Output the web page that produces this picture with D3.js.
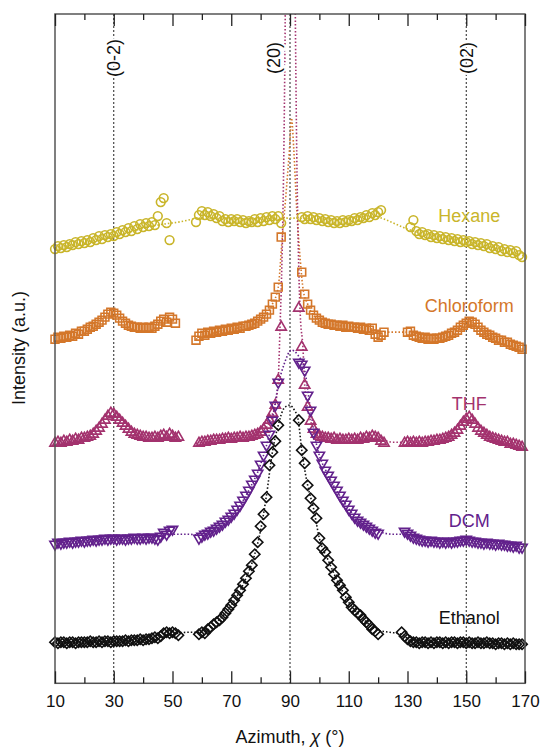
<!DOCTYPE html>
<html>
<head>
<meta charset="utf-8">
<script src="https://cdn.jsdelivr.net/npm/d3@7"></script>
<style>
  body { margin: 0; background: #fff; }
  svg { display: block; font-family: "Liberation Sans", Arial, sans-serif; }
</style>
</head>
<body>
<div id="chart"></div>
<script>
// --- Data (azimuth in degrees, intensity in arbitrary stacked units)
const xTicks = [10, 30, 50, 70, 90, 110, 130, 150, 170];
const xMinorTicks = [20, 40, 60, 80, 100, 120, 140, 160];
const peakPositions = [30, 90, 150];
const peakLabels = ['(0-2)', '(20)', '(02)'];
const seriesNames = ['Hexane', 'Chloroform', 'THF', 'DCM', 'Ethanol'];

// first azimuth of each measured segment, one point per degree after it
const hexaneStart = [10, 58, 94, 131];
const hexaneI = [
  [44.1, 44.4, 44.2, 44.5, 44.3, 44.6, 44.5, 44.8, 44.6, 44.9, 44.7, 45.0, 44.8, 45.2, 45.0, 45.4, 45.1, 45.5, 45.3, 45.6,
   45.4, 45.8, 45.6, 46.0, 45.8, 46.2, 45.9, 46.4, 46.1, 46.6, 46.3, 46.7, 46.4, 46.8, 46.5, 47.4, 48.8, 49.2, 46.7, 45.0],
  [46.8, 47.5, 47.9, 47.5, 47.8, 47.4, 47.6, 47.2, 47.4, 46.9, 47.1, 46.8, 47.1, 46.9, 47.1, 46.8, 47.0, 46.7, 46.9, 46.8,
   47.1, 46.8, 47.2, 46.9, 47.3, 47.0, 47.4, 47.1, 47.4, 46.7],
  [47.3, 47.1, 47.4, 47.1, 47.3, 47.0, 47.2, 46.9, 47.1, 46.8, 47.0, 46.7, 46.9, 46.7, 47.0, 46.8, 47.0, 46.9, 47.2, 47.0,
   47.3, 47.2, 47.5, 47.3, 47.7, 47.5, 47.8, 48.0],
  [46.3, 47.0, 45.9, 45.6, 45.8, 45.5, 45.6, 45.3, 45.5, 45.2, 45.4, 45.1, 45.3, 45.0, 45.2, 44.9, 45.1, 44.8, 45.0, 44.8,
   44.9, 44.6, 44.8, 44.5, 44.7, 44.4, 44.6, 44.2, 44.4, 44.1, 44.3, 43.9, 44.1, 43.8, 44.0, 43.7, 43.9, 43.5, 43.3]
];
const hexaneFit = [[10, 44.2], [30, 45.4], [45, 46.5], [52, 46.8], [60, 47.2], [75, 47.1], [90, 47.2], [105, 47.1],
  [118, 47.4], [122, 47.1], [126, 46.6], [130, 46.1], [140, 45.4], [150, 44.9], [160, 44.2], [170, 43.4]];

const chloroformStart = [10, 58, 94, 130];
const chloroformI = [
  [35.1, 35.3, 35.2, 35.4, 35.3, 35.5, 35.4, 35.7, 35.6, 35.9, 35.9, 36.1, 36.3, 36.4, 36.6, 36.8, 37.0, 37.3, 37.6, 37.8,
   37.7, 37.5, 37.2, 36.9, 36.7, 36.5, 36.4, 36.3, 36.3, 36.2, 36.3, 36.2, 36.3, 36.2, 36.4, 36.6, 36.9, 37.1, 36.8, 37.3,
   37.1, 36.7],
  [35.0, 35.4, 35.7, 35.5, 35.8, 35.7, 35.9, 35.8, 36.0, 35.9, 36.1, 36.0, 36.2, 36.1, 36.3, 36.2, 36.4, 36.4, 36.5, 36.6,
   36.7, 36.9, 37.1, 37.3, 37.6, 38.0, 38.6, 39.3, 40.3, 45.3],
  [41.8, 39.6, 38.6, 38.0, 37.5, 37.2, 37.0, 36.8, 36.7, 36.6, 36.6, 36.5, 36.5, 36.4, 36.5, 36.3, 36.4, 36.3, 36.3, 36.2,
   36.3, 36.1, 36.2, 36.0, 36.2, 35.6, 35.3, 35.5, 35.8],
  [35.8, 35.9, 35.5, 35.4, 35.3, 35.2, 35.3, 35.1, 35.2, 35.1, 35.2, 35.2, 35.3, 35.4, 35.5, 35.7, 35.8, 36.0, 36.3, 36.5,
   36.7, 36.9, 36.8, 36.6, 36.3, 36.0, 35.8, 35.6, 35.5, 35.3, 35.2, 35.0, 35.0, 34.8, 34.8, 34.6, 34.5, 34.4, 34.3, 34.1]
];
const chloroformFit = [[58, 35.1], [65, 35.8], [72, 36.2], [78, 36.7], [82, 37.6], [84, 38.6], [86, 40.3], [87.3, 45],
  [88.6, 49.5], [89.8, 54], [90.5, 57.2], [91.3, 54], [92.3, 48], [93.5, 43], [94.5, 40], [96, 38.6], [100, 37],
  [106, 36.5], [112, 36.3], [118, 36.1], [122, 35.8], [126, 35.8], [130, 35.8], [135, 35.2], [140, 35.2], [145, 35.7],
  [151, 36.9], [156, 35.8], [162, 35.0], [170, 34.0]];

const thfStart = [10, 59, 93, 129];
const thfI = [
  [24.7, 24.8, 24.7, 24.9, 24.8, 25.0, 24.9, 25.1, 25.0, 25.2, 25.2, 25.3, 25.4, 25.6, 25.9, 26.2, 26.6, 27.0, 27.4, 27.7,
   27.6, 27.3, 27.0, 26.7, 26.4, 26.1, 25.8, 25.6, 25.5, 25.4, 25.3, 25.3, 25.2, 25.2, 25.3, 25.2, 25.4, 25.5, 25.3, 25.6,
   25.4, 25.2, 25.3],
  [24.7, 24.8, 24.8, 24.9, 24.9, 25.0, 25.0, 25.0, 25.1, 25.1, 25.2, 25.1, 25.2, 25.2, 25.3, 25.2, 25.3, 25.3, 25.4, 25.5,
   25.6, 25.8, 26.1, 26.5, 27.0, 27.7, 28.5, 31.0, 36.3],
  [38.2, 34.3, 30.5, 28.3, 26.9, 26.1, 25.6, 25.4, 25.3, 25.2, 25.2, 25.1, 25.2, 25.0, 25.1, 25.0, 25.0, 25.1, 25.0, 25.1,
   25.0, 25.2, 25.1, 25.3, 25.2, 25.4, 25.3, 25.2, 24.9, 24.7],
  [24.7, 24.8, 24.7, 24.8, 24.7, 24.8, 24.7, 24.8, 24.8, 24.9, 24.9, 25.0, 25.0, 25.1, 25.2, 25.3, 25.5, 25.7, 26.0, 26.4,
   26.8, 27.1, 27.3, 27.0, 26.6, 26.2, 25.9, 25.7, 25.5, 25.3, 25.2, 25.1, 25.0, 24.9, 24.8, 24.8, 24.6, 24.6, 24.5, 24.4,
   24.3]
];
const thfFit = [[58, 24.7], [70, 25.1], [78, 25.5], [82, 26.3], [84, 27.6], [85, 28.6], [86, 31], [86.6, 36.3], [87.1, 41],
  [88.0, 56], [88.4, 68], [88.7, 80], [90.1, 110], [91.5, 80], [91.8, 68], [92.2, 56], [93.0, 42], [93.5, 37.5],
  [94.4, 34.3], [95, 30.5], [97, 26.9], [100, 25.4], [110, 25.1], [120, 25.1], [125, 24.8], [130, 24.8], [140, 25.0],
  [145, 25.5], [151, 27.2], [157, 25.5], [163, 24.8], [170, 24.3]];

const dcmStart = [10, 59, 93, 129];
const dcmI = [
  [14.6, 14.8, 14.7, 14.8, 14.8, 14.9, 14.8, 14.9, 14.9, 15.0, 14.9, 15.0, 15.0, 15.1, 15.0, 15.1, 15.1, 15.2, 15.1, 15.2,
   15.2, 15.1, 15.2, 15.2, 15.1, 15.2, 15.2, 15.3, 15.2, 15.2, 15.3, 15.2, 15.3, 15.3, 15.2, 15.1, 15.4, 15.8, 15.6, 16.0,
   16.1],
  [15.2, 15.4, 15.6, 15.7, 15.9, 16.0, 16.2, 16.4, 16.6, 16.9, 17.1, 17.4, 17.7, 18.1, 18.5, 19.0, 19.5, 20.0, 20.6, 21.1,
   21.7, 22.6, 23.5, 24.5, 25.6, 27.0, 28.5, 30.8],
  [32.8, 32.6, 32.0, 29.5, 28.0, 25.8, 24.5, 23.5, 22.7, 22.0, 21.5, 21.0, 20.5, 20.0, 19.5, 19.0, 18.6, 18.1, 17.7, 17.3,
   17.0, 16.8, 16.6, 16.4, 16.2, 16.0, 15.8, 15.7],
  [15.9, 15.7, 15.5, 15.3, 15.2, 15.1, 15.0, 15.0, 14.9, 15.0, 14.9, 14.9, 14.8, 14.9, 14.8, 14.9, 14.8, 14.9, 14.9, 15.0,
   15.0, 15.1, 15.0, 14.9, 14.9, 14.8, 14.8, 14.7, 14.8, 14.7, 14.7, 14.6, 14.7, 14.6, 14.6, 14.5, 14.5, 14.4, 14.5, 14.3,
   14.3]
];
const dcmFit = [[10, 14.7], [30, 15.1], [45, 15.4], [50, 15.6], [55, 15.6], [60, 15.5], [70, 17.3], [76, 20], [80, 22.6],
  [84, 27], [86, 30.5], [88, 32.6], [90.5, 34], [92.7, 33.5], [95, 32], [97, 28], [99, 24.6], [103, 21.5], [108, 19],
  [114, 16.8], [120, 15.9], [125, 15.6], [130, 15.6], [140, 14.9], [150, 15.0], [170, 14.3]];

const ethanolStart = [10, 59, 93, 128];
const ethanolI = [
  [4.8, 4.7, 4.8, 4.8, 4.7, 4.8, 4.8, 4.7, 4.8, 4.8, 4.8, 4.8, 4.9, 4.8, 4.8, 4.9, 4.8, 4.9, 4.9, 4.8,
   4.9, 4.9, 4.9, 4.9, 5.0, 4.9, 5.0, 5.0, 5.0, 5.1, 5.0, 5.1, 5.1, 5.2, 5.3, 5.2, 5.4, 5.7, 5.8, 5.7,
   5.8, 5.7, 5.5],
  [5.6, 5.8, 5.7, 6.1, 6.3, 6.6, 6.8, 7.0, 7.3, 7.7, 8.1, 8.5, 9.0, 9.5, 10.0, 10.6, 11.2, 11.9, 12.5, 13.6,
   14.8, 16.4, 17.6, 19.3, 22.5, 23.8, 24.9, 26.5],
  [27.0, 24.0, 22.7, 20.5, 19.2, 18.2, 17.2, 15.2, 14.2, 13.8, 13.0, 12.3, 11.6, 11.0, 10.5, 10.0, 9.3, 8.8, 8.3, 8.0,
   7.7, 7.5, 7.1, 6.8, 6.5, 6.1, 5.9, 5.6],
  [5.8, 5.4, 5.1, 4.9, 4.8, 4.8, 4.7, 4.8, 4.8, 4.7, 4.8, 4.7, 4.8, 4.8, 4.7, 4.8, 4.7, 4.8, 4.8, 4.7,
   4.8, 4.8, 4.7, 4.8, 4.7, 4.7, 4.8, 4.7, 4.7, 4.8, 4.7, 4.7, 4.6, 4.7, 4.7, 4.6, 4.7, 4.6, 4.7, 4.6,
   4.6, 4.6]
];
const ethanolFit = [[10, 4.8], [30, 4.9], [44, 5.2], [50, 5.6], [55, 5.8], [60, 5.8], [65, 6.8], [70, 8.5], [75, 11.2],
  [78, 13.6], [80, 16], [82, 19.5], [84, 23.8], [86, 26.5], [88, 28.2], [89.9, 28.5], [91.5, 28], [92.7, 27.2], [94, 24],
  [96, 20.5], [98, 18.2], [100, 15.2], [103, 13], [106, 11], [110, 8.8], [115, 7.1], [120, 6.0], [124, 5.8], [128, 5.6],
  [132, 4.8], [170, 4.6]];

// --- Chart setup
const width = 541;
const height = 749;
const margin = { top: 14, right: 16, bottom: 65.7, left: 55 };

const colors = ['#c9b52a', '#d4772a', '#a3326e', '#62218c', '#111111'];
const symbols = ['circle', 'square', 'up', 'down', 'diamond'];
const labelPos = [[151, 46.8], [151, 37.85], [151, 28.0], [151, 16.3], [151, 6.6]];

const allStarts = [hexaneStart, chloroformStart, thfStart, dcmStart, ethanolStart];
const allValues = [hexaneI, chloroformI, thfI, dcmI, ethanolI];
const allFits = [hexaneFit, chloroformFit, thfFit, dcmFit, ethanolFit];

const svg = d3.select('#chart').append('svg')
  .attr('width', width)
  .attr('height', height)
  .attr('viewBox', [0, 0, width, height]);

const x = d3.scaleLinear()
  .domain([10, 170])
  .range([margin.left, width - margin.right]);

const y = d3.scaleLinear()
  .domain([0.7, 67.6])
  .range([height - margin.bottom, margin.top]);

svg.append('defs').append('clipPath')
  .attr('id', 'plot-clip')
  .append('rect')
  .attr('x', margin.left)
  .attr('y', margin.top)
  .attr('width', width - margin.left - margin.right)
  .attr('height', height - margin.top - margin.bottom);

// peak reference lines
svg.append('g')
  .selectAll('line')
  .data(peakPositions)
  .join('line')
  .attr('x1', d => x(d))
  .attr('x2', d => x(d))
  .attr('y1', margin.top)
  .attr('y2', height - margin.bottom)
  .attr('stroke', '#222')
  .attr('stroke-width', 1)
  .attr('stroke-dasharray', '2,2');

// fitted curves (dotted)
const fitLine = d3.line()
  .x(d => x(d[0]))
  .y(d => y(d[1]))
  .curve(d3.curveMonotoneX);

svg.append('g')
  .attr('clip-path', 'url(#plot-clip)')
  .selectAll('path')
  .data(allFits)
  .join('path')
  .attr('d', d => fitLine(d))
  .attr('fill', 'none')
  .attr('stroke', (d, i) => colors[i])
  .attr('stroke-width', 1.6)
  .attr('stroke-dasharray', '1.5,2');

// markers
const symbolPath = {
  circle: d3.symbol(d3.symbolCircle, 60)(),
  square: d3.symbol(d3.symbolSquare, 62)(),
  up: d3.symbol(d3.symbolTriangle, 46)(),
  down: d3.symbol(d3.symbolTriangle, 46)(),
  diamond: d3.symbol(d3.symbolSquare, 54)()
};
const symbolRotate = { circle: 0, square: 0, up: 0, down: 180, diamond: 45 };

allValues.forEach((segments, si) => {
  const pts = [];
  segments.forEach((vals, k) => {
    vals.forEach((v, i) => pts.push([allStarts[si][k] + i, v]));
  });
  svg.append('g')
    .attr('class', 'series')
    .selectAll('path')
    .data(pts)
    .join('path')
    .attr('d', symbolPath[symbols[si]])
    .attr('transform', d => `translate(${x(d[0])},${y(d[1])}) rotate(${symbolRotate[symbols[si]]})`)
    .attr('fill', 'none')
    .attr('stroke', colors[si])
    .attr('stroke-width', 1.6);
});

// frame and axes
svg.append('rect')
  .attr('x', margin.left)
  .attr('y', margin.top)
  .attr('width', width - margin.left - margin.right)
  .attr('height', height - margin.top - margin.bottom)
  .attr('fill', 'none')
  .attr('stroke', '#555')
  .attr('stroke-width', 1.5);

const axisStyle = g => {
  g.select('.domain').remove();
  g.selectAll('.tick line').attr('stroke', '#222').attr('stroke-width', 1.3);
};

svg.append('g')
  .attr('transform', `translate(0,${height - margin.bottom})`)
  .call(d3.axisBottom(x).tickValues(xTicks).tickSize(-12).tickPadding(11.5))
  .call(axisStyle)
  .call(g => g.selectAll('text')
    .attr('fill', '#111')
    .style('font-size', '17px')
    .style('font-family', '"Liberation Sans", Arial, sans-serif'));

svg.append('g')
  .attr('transform', `translate(0,${height - margin.bottom})`)
  .call(d3.axisBottom(x).tickValues(xMinorTicks).tickSize(-6).tickFormat(''))
  .call(axisStyle);

svg.append('g')
  .attr('transform', `translate(0,${margin.top})`)
  .call(d3.axisTop(x).tickValues(xTicks).tickSize(-12).tickFormat(''))
  .call(axisStyle);

svg.append('g')
  .attr('transform', `translate(0,${margin.top})`)
  .call(d3.axisTop(x).tickValues(xMinorTicks).tickSize(-6).tickFormat(''))
  .call(axisStyle);

// peak labels
svg.append('g')
  .selectAll('text')
  .data(peakPositions)
  .join('text')
  .attr('transform', (d, i) => `translate(${x(d) - (i === 1 ? 16.5 : 0)},58) rotate(-90)`)
  .attr('text-anchor', 'middle')
  .attr('dy', '0.35em')
  .attr('fill', '#111')
  .attr('stroke', '#fff')
  .attr('stroke-width', 4)
  .attr('paint-order', 'stroke')
  .style('font-size', '18px')
  .text((d, i) => peakLabels[i]);

// series labels
svg.append('g')
  .selectAll('text')
  .data(seriesNames)
  .join('text')
  .attr('x', (d, i) => x(labelPos[i][0]))
  .attr('y', (d, i) => y(labelPos[i][1]))
  .attr('text-anchor', 'middle')
  .attr('fill', (d, i) => colors[i])
  .style('font-size', '18px')
  .text(d => d);

// axis titles
svg.append('text')
  .attr('x', (margin.left + width - margin.right) / 2)
  .attr('y', 743)
  .attr('text-anchor', 'middle')
  .attr('fill', '#111')
  .style('font-size', '18px')
  .html('Azimuth, <tspan font-style="italic">χ</tspan> (°)');

svg.append('text')
  .attr('transform', 'translate(19,348) rotate(-90)')
  .attr('text-anchor', 'middle')
  .attr('dy', '0.35em')
  .attr('fill', '#111')
  .style('font-size', '18px')
  .text('Intensity (a.u.)');
</script>
</body>
</html>
